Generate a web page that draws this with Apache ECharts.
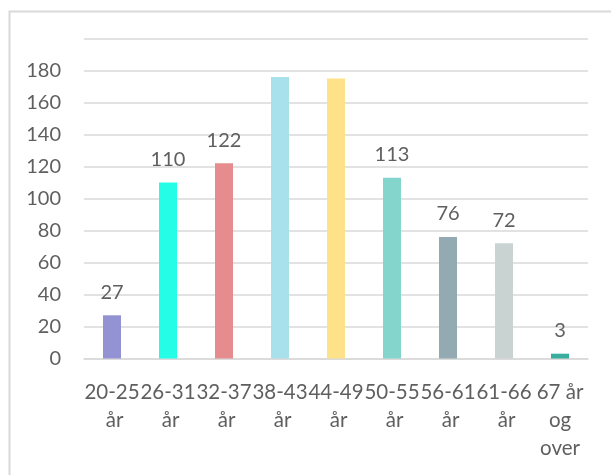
<!DOCTYPE html>
<html>
<head>
<meta charset="utf-8">
<script src="https://cdn.jsdelivr.net/npm/echarts@6/dist/echarts.min.js"></script>
<style>
html,body{margin:0;padding:0;background:#fff;}
#chart{width:611px;height:475px;}
</style>
</head>
<body>
<div id="chart"></div>
<script>
const categories = ["20-25 år","26-31 år","32-37 år","38-43 år","44-49 år","50-55 år","56-61 år","61-66 år","67 år og over"];
const values = [27, 110, 122, 176, 175, 113, 76, 72, 3];
const barColors = ["#9393d3","#26fde6","#e68c8f","#a8e0ec","#fde28a","#84d6cd","#93aab3","#c9d4d2","#3aae9e"];
const labelShown = [true, true, true, false, false, true, true, true, true];
const yTicks = [0,20,40,60,80,100,120,140,160,180];

const chart = echarts.init(document.getElementById('chart'), null, {renderer:'canvas'});
const font = 'Lato, "Open Sans", sans-serif';
chart.setOption({
  animation:false,
  backgroundColor:'#ffffff',
  graphic:[{
    type:'rect', left:7, top:9, silent:true,
    shape:{x:0,y:0,width:700,height:600},
    style:{fill:'none',stroke:'#d9d9d9',lineWidth:2}
  }],
  grid:{left:84,right:23,top:38.5,bottom:116.5},
  xAxis:{
    type:'category',
    data:categories,
    axisTick:{show:false},
    axisLine:{show:true,lineStyle:{color:'#d9d9d9',width:1.5}},
    axisLabel:{
      interval:0, color:'#5f5f5f', fontSize:20.5, fontFamily:font,
      lineHeight:28, margin:20, width:58, overflow:'break'
    }
  },
  yAxis:{
    type:'value', min:0, max:200, interval:20,
    axisLine:{show:false}, axisTick:{show:false},
    splitLine:{lineStyle:{color:'#d9d9d9',width:1.5}},
    axisLabel:{
      color:'#5f5f5f', fontSize:20, fontFamily:font, margin:23,
      formatter:function(v){ return yTicks.indexOf(v) >= 0 ? String(v) : ''; }
    }
  },
  series:[{
    type:'bar',
    barWidth:18,
    data:values.map(function(v,i){
      return {value:v, itemStyle:{color:barColors[i]}, label:{show:labelShown[i]}};
    }),
    label:{
      show:true, position:'top', distance:13,
      color:'#5f5f5f', fontSize:20, fontFamily:font
    }
  }]
});
</script>
</body>
</html>
